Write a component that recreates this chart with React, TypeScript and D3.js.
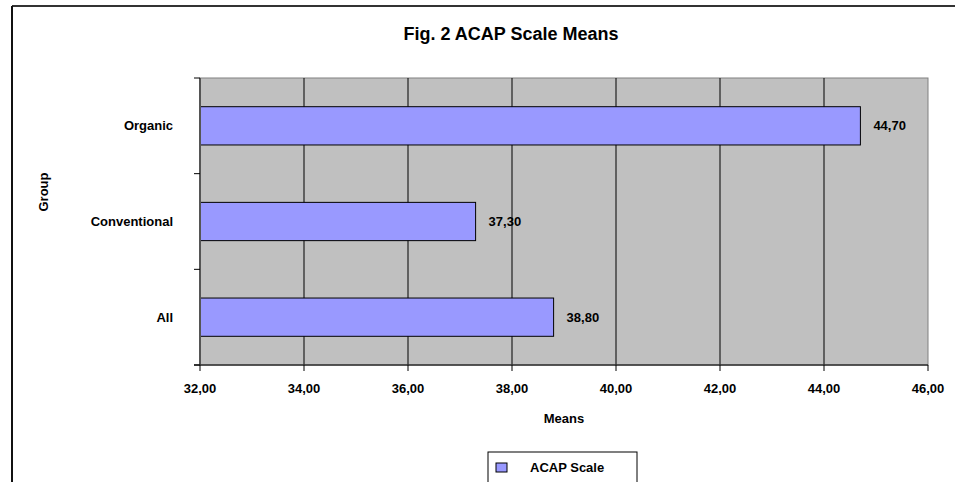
import React from "react";
import * as d3 from "d3";

const categories = ["Organic", "Conventional", "All"];
const values = [44.7, 37.3, 38.8];
const xTicks = [32, 34, 36, 38, 40, 42, 44, 46];
const seriesName = "ACAP Scale";
const title = "Fig. 2 ACAP Scale Means";
const xTitle = "Means";
const yTitle = "Group";

const W = 955;
const H = 482;
const plot = { left: 200, right: 928, top: 78, bottom: 365 };
const FONT = "'Liberation Sans', Arial, sans-serif";
const FS = 13;
const fmt = (v: number) => v.toFixed(2).replace(".", ",");

export default function App() {
  const x = d3.scaleLinear().domain([32, 46]).range([plot.left, plot.right]);
  const y = d3
    .scaleBand<string>()
    .domain(categories)
    .range([plot.top, plot.bottom])
    .paddingInner(0.6)
    .paddingOuter(0.3);
  const step = y.step();
  const boundaries = d3.range(categories.length + 1).map((i) => plot.top + i * step);

  return (
    <svg
      width={W}
      height={H}
      style={{ position: "absolute", left: 0, top: 0, background: "#fff" }}
      fontFamily={FONT}
    >
      {/* outer chart border */}
      <line x1={12} y1={6} x2={W + 10} y2={6} stroke="#333" strokeWidth={2} />
      <line x1={12} y1={6} x2={12} y2={H + 10} stroke="#111" strokeWidth={2} />

      <text x={511} y={40} textAnchor="middle" fontSize={18} fontWeight="bold" fill="#000">
        {title}
      </text>

      {/* plot area */}
      <rect
        x={plot.left}
        y={plot.top}
        width={plot.right - plot.left}
        height={plot.bottom - plot.top}
        fill="#C0C0C0"
        stroke="#808080"
        strokeWidth={1}
      />
      {xTicks.slice(1, -1).map((t) => (
        <line key={t} x1={x(t)} x2={x(t)} y1={plot.top} y2={plot.bottom} stroke="#000" strokeWidth={1} />
      ))}

      {/* bars */}
      {categories.map((c, i) => (
        <g key={c}>
          <rect
            x={x(32)}
            y={y(c)}
            width={x(values[i]) - x(32)}
            height={y.bandwidth()}
            fill="#9999FF"
            stroke="#000"
            strokeWidth={1}
          />
          <text
            x={x(values[i]) + 13}
            y={(y(c) as number) + y.bandwidth() / 2 + 4.5}
            fontSize={FS}
            fontWeight="bold"
            fill="#000"
          >
            {fmt(values[i])}
          </text>
          <text
            x={173}
            y={(y(c) as number) + y.bandwidth() / 2 + 4.5}
            textAnchor="end"
            fontSize={FS}
            fontWeight="bold"
            fill="#000"
          >
            {c}
          </text>
        </g>
      ))}

      {/* axes */}
      <line x1={plot.left} x2={plot.left} y1={plot.top} y2={plot.bottom} stroke="#555" strokeWidth={2} />
      <line x1={plot.left - 6} x2={plot.right} y1={plot.bottom} y2={plot.bottom} stroke="#333" strokeWidth={1.5} />
      {boundaries.map((b, i) => (
        <line key={i} x1={plot.left - 6} x2={plot.left} y1={b} y2={b} stroke="#000" strokeWidth={1} />
      ))}
      {xTicks.map((t) => (
        <g key={t}>
          <line x1={x(t)} x2={x(t)} y1={plot.bottom} y2={plot.bottom + 6} stroke="#000" strokeWidth={1} />
          <text x={x(t)} y={393} textAnchor="middle" fontSize={FS} fontWeight="bold" fill="#000">
            {fmt(t)}
          </text>
        </g>
      ))}

      <text x={(plot.left + plot.right) / 2} y={423} textAnchor="middle" fontSize={FS} fontWeight="bold">
        {xTitle}
      </text>
      <text
        transform={`translate(48,192) rotate(-90)`}
        textAnchor="middle"
        fontSize={FS}
        fontWeight="bold"
      >
        {yTitle}
      </text>

      {/* legend */}
      <rect x={488} y={452} width={149} height={40} fill="#fff" stroke="#000" strokeWidth={1} />
      <rect x={496} y={463} width={11} height={9} fill="#9999FF" stroke="#000" strokeWidth={1} />
      <text x={530} y={472} fontSize={FS} fontWeight="bold">
        {seriesName}
      </text>
    </svg>
  );
}
